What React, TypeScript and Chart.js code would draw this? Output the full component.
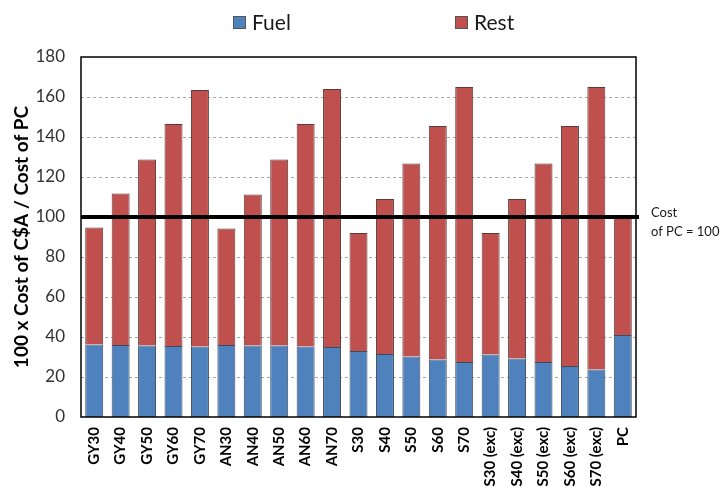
import React, { useEffect, useRef } from "react";
import { Chart, registerables } from "chart.js";
Chart.register(...registerables);

const categories = [
  "GY30", "GY40", "GY50", "GY60", "GY70",
  "AN30", "AN40", "AN50", "AN60", "AN70",
  "S30", "S40", "S50", "S60", "S70",
  "S30 (exc)", "S40 (exc)", "S50 (exc)", "S60 (exc)", "S70 (exc)",
  "PC",
];
const fuelValues = [
  36.3, 36.0, 35.8, 35.5, 35.2,
  36.0, 35.7, 35.7, 35.3, 35.0,
  33.0, 31.5, 30.2, 28.7, 27.5,
  31.2, 29.2, 27.5, 25.5, 23.7,
  41.0,
];
const restValues = [
  58.4, 75.7, 92.9, 111.0, 128.3,
  58.2, 75.5, 93.0, 111.2, 129.0,
  59.0, 77.5, 96.5, 116.8, 137.5,
  60.8, 79.8, 99.2, 120.0, 141.3,
  59.0,
];
const yTicks = [0, 20, 40, 60, 80, 100, 120, 140, 160, 180];
const referenceValue = 100;
const referenceLabel = ["Cost", "of PC = 100"];
const seriesNames = ["Fuel", "Rest"];
const yTitle = "100 x Cost of C$A / Cost of PC";

const FONT = "Lato, 'Open Sans', sans-serif";
const BLUE = "#4F81BD";
const RED = "#C0504D";

const gridPlugin = {
  id: "dashedGrid",
  beforeDatasetsDraw(chart: any) {
    const { ctx, chartArea, scales } = chart;
    ctx.save();
    ctx.strokeStyle = "#a8a8a8";
    ctx.lineWidth = 1;
    ctx.setLineDash([3, 3]);
    for (const v of yTicks) {
      if (v === 0 || v === 180) continue;
      const y = Math.round(scales.y.getPixelForValue(v)) + 0.5;
      ctx.beginPath();
      ctx.moveTo(chartArea.left, y);
      ctx.lineTo(chartArea.right, y);
      ctx.stroke();
    }
    ctx.restore();
  },
};

const framePlugin = {
  id: "frameAndRef",
  afterDatasetsDraw(chart: any) {
    const { ctx, chartArea, scales } = chart;
    const y = scales.y.getPixelForValue(referenceValue);
    ctx.save();
    ctx.strokeStyle = "#000";
    ctx.lineWidth = 1.5;
    ctx.strokeRect(chartArea.left, chartArea.top, chartArea.right - chartArea.left, chartArea.bottom - chartArea.top);
    ctx.lineWidth = 4;
    ctx.beginPath();
    ctx.moveTo(chartArea.left, y);
    ctx.lineTo(chartArea.right + 3, y);
    ctx.stroke();
    ctx.fillStyle = "#1a1a1a";
    ctx.font = `13px ${FONT}`;
    ctx.textAlign = "left";
    ctx.textBaseline = "middle";
    ctx.fillText(referenceLabel[0], chartArea.right + 15, y - 4);
    ctx.fillText(referenceLabel[1], chartArea.right + 15, y + 15);
    const ds = chart.data.datasets;
    const items = [
      { x: 233, color: ds[0].backgroundColor, text: ds[0].label },
      { x: 455, color: ds[1].backgroundColor, text: ds[1].label },
    ];
    ctx.font = `21px ${FONT}`;
    for (const it of items) {
      ctx.fillStyle = it.color;
      ctx.fillRect(it.x, 16, 13, 13);
      ctx.strokeStyle = "#555";
      ctx.lineWidth = 1;
      ctx.strokeRect(it.x + 0.5, 16.5, 12, 12);
      ctx.fillStyle = "#1a1a1a";
      ctx.fillText(it.text, it.x + 19, 23);
    }
    ctx.restore();
  },
};

export default function App() {
  const ref = useRef<HTMLCanvasElement>(null);
  useEffect(() => {
    if (!ref.current) return;
    const chart = new Chart(ref.current, {
      type: "bar",
      data: {
        labels: categories,
        datasets: [
          {
            label: seriesNames[0],
            data: fuelValues,
            backgroundColor: BLUE,
            borderColor: "#3c4a5e",
            borderWidth: 1,
            barPercentage: 0.68,
            categoryPercentage: 1,
          },
          {
            label: seriesNames[1],
            data: restValues,
            backgroundColor: RED,
            borderColor: "#5a3a3a",
            borderWidth: 1,
            barPercentage: 0.68,
            categoryPercentage: 1,
          },
        ],
      },
      options: {
        responsive: false,
        animation: false,
        layout: { padding: { top: 57, right: 86, left: 0, bottom: 0 } },
        plugins: { legend: { display: false }, tooltip: { enabled: false } },
        scales: {
          x: {
            stacked: true,
            grid: { display: false, drawTicks: false },
            border: { display: false },
            ticks: {
              autoSkip: false,
              minRotation: 90,
              maxRotation: 90,
              padding: 10,
              color: "#000",
              font: { family: FONT, size: 15, weight: "bold" },
            },
            afterFit(scale: any) {
              scale.height = 80;
            },
          },
          y: {
            stacked: true,
            min: 0,
            max: 180,
            afterBuildTicks(scale: any) {
              scale.ticks = yTicks.map((v) => ({ value: v }));
            },
            grid: { display: false, drawTicks: false },
            border: { display: false },
            ticks: {
              padding: 16,
              color: "#333",
              font: { family: FONT, size: 17 },
            },
            title: {
              display: true,
              text: yTitle,
              color: "#000",
              font: { family: FONT, size: 19, weight: "bold" },
              padding: { top: 10, bottom: 0 },
            },
            afterFit(scale: any) {
              scale.width = 81;
            },
          },
        },
      },
      plugins: [gridPlugin, framePlugin],
    } as any);
    return () => chart.destroy();
  }, []);
  return (
    <div style={{ position: "fixed", left: 0, top: 0, width: 722, height: 497, background: "#fff" }}>
      <canvas ref={ref} width={722} height={497} />
    </div>
  );
}
